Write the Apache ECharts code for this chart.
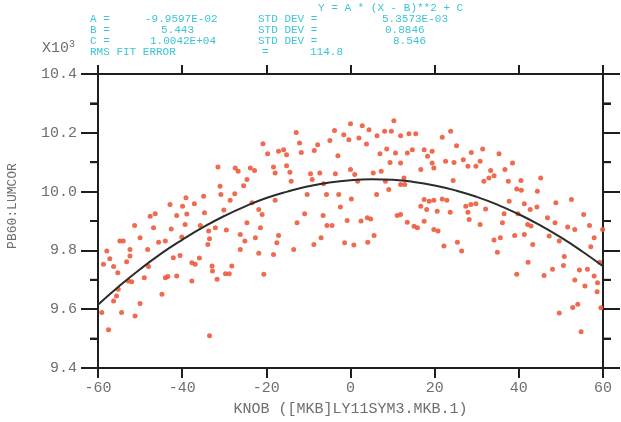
<!DOCTYPE html>
<html>
<head>
<meta charset="utf-8">
<script src="https://cdn.jsdelivr.net/npm/echarts@6/dist/echarts.min.js"></script>
<style>
  html, body { margin: 0; padding: 0; background: #fff; }
  #chart { width: 621px; height: 422px; }
</style>
</head>
<body>
<div id="chart"></div>
<script>
// fitted curve Y = A*(X-B)**2 + C (units of 10^3)
const fitKnob = [-60, -55, -50, -45, -40, -35, -30, -25, -20, -15, -10, -5, 0,
  5, 10, 15, 20, 25, 30, 35, 40, 45, 50, 55, 60];
const fitLumcor = [9.615, 9.678, 9.736, 9.789, 9.836, 9.879, 9.917, 9.950, 9.978,
  10.000, 10.018, 10.031, 10.039, 10.042, 10.040, 10.033, 10.021, 10.004, 9.982,
  9.955, 9.923, 9.886, 9.844, 9.797, 9.746];

// measured points [knob, lumcor/1000]
const measured = [
  [-31.0, 10.018], [-25.4, 10.020], [-39.1, 9.979], [-34.9, 9.984], [-30.8, 9.990],
  [-27.5, 9.993], [-28.6, 9.971], [-42.9, 9.956], [-39.9, 9.950], [-37.1, 9.959],
  [-30.1, 9.937], [-23.4, 9.962], [-21.8, 9.939], [-47.6, 9.916], [-46.4, 9.925],
  [-41.3, 9.919], [-38.9, 9.924], [-34.7, 9.928], [-21.0, 9.922], [-51.3, 9.885],
  [-46.8, 9.877], [-42.6, 9.873], [-39.3, 9.888], [-35.7, 9.885], [-33.7, 9.866],
  [-32.1, 9.877], [-29.5, 9.869], [-24.6, 9.894], [-21.4, 9.877], [-54.8, 9.832],
  [-54.0, 9.832], [-50.0, 9.843], [-45.6, 9.828], [-44.0, 9.832], [-40.1, 9.846],
  [-33.5, 9.840], [-33.9, 9.820], [-26.2, 9.854], [-25.1, 9.832], [-22.6, 9.843],
  [-57.9, 9.798], [-52.4, 9.803], [-48.2, 9.803], [-26.2, 9.803], [-21.8, 9.790],
  [-57.2, 9.772], [-58.7, 9.753], [-56.3, 9.745], [-53.2, 9.761], [-52.4, 9.781],
  [-42.1, 9.775], [-40.5, 9.783], [-37.7, 9.758], [-36.9, 9.753], [-35.9, 9.774],
  [-32.9, 9.747], [-32.8, 9.730], [-28.2, 9.747], [-55.3, 9.724], [-48.0, 9.745],
  [-29.7, 9.721], [-28.8, 9.721], [-52.8, 9.696], [-52.0, 9.693], [-49.0, 9.707],
  [-44.0, 9.707], [-43.4, 9.711], [-41.3, 9.713], [-37.7, 9.696], [-31.7, 9.702],
  [-20.6, 9.719], [-55.2, 9.668], [-44.8, 9.651], [-56.3, 9.628], [-55.6, 9.645],
  [-50.0, 9.619], [-59.1, 9.589], [-54.4, 9.589], [-51.2, 9.577], [-57.5, 9.530],
  [-33.5, 9.510],
  [-31.5, 10.084], [-27.4, 10.080], [-26.7, 10.069], [-23.8, 10.080], [-22.8, 10.072],
  [-24.6, 10.041],
  [0.0, 10.231], [2.8, 10.224], [4.4, 10.210], [10.3, 10.241], [-12.9, 10.201],
  [-3.8, 10.208], [-1.6, 10.193], [-0.4, 10.176], [2.0, 10.182], [3.8, 10.162],
  [6.3, 10.190], [8.1, 10.205], [9.7, 10.205], [11.9, 10.190], [13.9, 10.197],
  [15.5, 10.197], [-20.8, 10.163], [-12.1, 10.165], [-7.8, 10.159], [-4.9, 10.174],
  [17.5, 10.142], [18.3, 10.120], [-19.7, 10.129], [-17.1, 10.137], [-15.9, 10.142],
  [-15.2, 10.125], [-11.7, 10.133], [-8.6, 10.140], [-3.0, 10.122], [7.0, 10.129],
  [8.6, 10.145], [10.7, 10.131], [13.5, 10.131], [14.7, 10.142], [-18.3, 10.084],
  [-15.2, 10.088], [-14.4, 10.066], [-17.9, 10.063], [9.4, 10.099], [11.9, 10.097],
  [16.7, 10.075], [19.4, 10.097], [-9.5, 10.061], [-7.3, 10.063], [-3.6, 10.061],
  [0.0, 10.075], [1.0, 10.058], [5.4, 10.063], [7.3, 10.069], [12.7, 10.046],
  [-14.1, 10.035], [-9.1, 10.041], [-6.4, 10.027], [1.7, 10.035], [8.3, 10.035],
  [11.9, 10.024], [12.9, 10.024], [9.1, 10.007], [-10.3, 9.990], [-2.8, 9.990],
  [0.2, 9.975], [6.2, 9.990], [-17.9, 9.971], [-5.7, 9.990], [17.5, 9.973],
  [18.7, 9.967], [-2.4, 9.948], [16.7, 9.950], [18.1, 9.939],
  [-10.9, 9.925], [-6.5, 9.919], [4.0, 9.911], [4.8, 9.907], [2.5, 9.900],
  [-0.8, 9.902], [11.1, 9.919], [11.9, 9.922], [-12.7, 9.894], [-5.6, 9.885],
  [-4.4, 9.885], [13.5, 9.896], [15.1, 9.882], [15.9, 9.877], [17.5, 9.899],
  [-17.1, 9.851], [-7.0, 9.843], [5.6, 9.851], [-17.5, 9.826], [-8.7, 9.820],
  [-1.4, 9.826], [4.1, 9.828], [0.8, 9.818], [-13.5, 9.803], [-18.3, 9.786],
  [23.8, 10.205], [21.8, 10.185], [25.2, 10.156], [19.4, 10.137], [28.7, 10.133],
  [31.4, 10.145], [22.6, 10.103], [24.6, 10.099], [26.8, 10.108], [27.9, 10.086],
  [29.8, 10.086], [30.8, 10.103], [19.8, 10.080], [35.3, 10.129], [38.5, 10.097],
  [33.3, 10.072], [34.1, 10.054], [32.9, 10.046], [31.7, 10.035], [36.7, 10.075],
  [37.5, 10.035], [40.5, 10.038], [45.2, 10.046], [39.5, 10.009], [40.6, 10.005],
  [44.4, 10.001], [24.4, 10.038], [19.8, 9.971], [21.8, 9.975], [22.9, 9.971],
  [27.4, 9.950], [28.6, 9.956], [29.8, 9.959], [32.1, 9.941], [37.7, 9.967],
  [41.3, 9.959], [42.7, 9.939], [44.3, 9.948], [48.8, 9.962], [52.5, 9.973],
  [20.6, 9.933], [23.7, 9.930], [27.9, 9.930], [36.5, 9.925], [28.2, 9.905],
  [30.8, 9.888], [36.1, 9.894], [39.8, 9.925], [46.8, 9.911], [48.6, 9.894],
  [55.4, 9.922], [19.8, 9.871], [20.8, 9.866], [42.1, 9.888], [42.9, 9.883],
  [51.6, 9.880], [53.3, 9.871], [56.8, 9.885], [22.2, 9.815], [25.4, 9.828],
  [26.4, 9.798], [34.1, 9.835], [35.6, 9.843], [34.9, 9.794], [39.0, 9.851],
  [41.3, 9.854], [47.2, 9.849], [49.6, 9.832], [43.3, 9.820], [50.8, 9.779],
  [57.9, 9.843], [59.9, 9.871], [57.1, 9.812], [42.2, 9.760], [39.5, 9.719],
  [46.0, 9.715], [48.0, 9.736], [50.6, 9.749], [54.4, 9.733], [56.3, 9.736],
  [53.3, 9.699], [57.9, 9.713], [55.7, 9.679], [58.7, 9.690], [58.6, 9.659],
  [54.0, 9.617], [52.8, 9.606], [49.6, 9.587], [54.8, 9.523], [59.5, 9.605],
  [59.2, 9.760]
];

// minor tick positions on the y axis (units of 10^3)
const minorTickValues = [9.5, 9.7, 9.9, 10.1, 10.3];

const fitText = [
  { x: 318, y: 9, t: 'Y = A * (X - B)**2 + C' },
  { x: 90, y: 20, t: 'A =' }, { x: 145, y: 20, t: '-9.9597E-02' },
  { x: 258, y: 20, t: 'STD DEV =' }, { x: 382, y: 20, t: '5.3573E-03' },
  { x: 90, y: 31, t: 'B =' }, { x: 161, y: 31, t: '5.443' },
  { x: 258, y: 31, t: 'STD DEV =' }, { x: 385, y: 31, t: '0.8846' },
  { x: 90, y: 42, t: 'C =' }, { x: 150, y: 42, t: '1.0042E+04' },
  { x: 258, y: 42, t: 'STD DEV =' }, { x: 393, y: 42, t: '8.546' },
  { x: 90, y: 53, t: 'RMS FIT ERROR' }, { x: 262, y: 53, t: '=' },
  { x: 310, y: 53, t: '114.8' }
];

const mono = 'Liberation Mono';
const labelGray = '#6e6e6e';
const ink = '#1e1e1e';
const frameLine = () => ({ show: true, onZero: false, lineStyle: { color: ink, width: 2 } });
const tick = len => ({ show: true, inside: false, length: len, lineStyle: { color: ink, width: 2 } });

// the y axis runs in raw units (integer intervals), labels show value / 10^3
const toRaw = v => Math.round(v * 1000);

const yAxisFor = (position, withLabels) => ({
  type: 'value', position: position, min: 9400, max: 10400, interval: 200,
  axisLine: frameLine(),
  axisTick: tick(17),
  minorTick: { show: true, splitNumber: 2, length: 8, lineStyle: { color: ink, width: 2 } },
  axisLabel: withLabels
    ? { color: labelGray, fontFamily: mono, fontSize: 15, margin: 21, formatter: v => (v / 1000).toFixed(1) }
    : { show: false },
  splitLine: { show: false }
});

const chart = echarts.init(document.getElementById('chart'));

const option = {
  animation: false,
  backgroundColor: '#fff',
  grid: { left: 98, right: 18, top: 74, bottom: 54 },
  graphic: fitText.map(d => ({
    type: 'text', left: d.x, top: d.y - 6,
    style: { text: d.t, fill: '#3cc4d6', font: '11px ' + mono }
  })).concat([
    {
      type: 'text', left: 42, top: 39,
      style: {
        text: '{a|X10}{b|3}', fill: labelGray,
        rich: {
          a: { fontFamily: mono, fontSize: 15, fill: labelGray },
          b: { fontFamily: mono, fontSize: 10, fill: labelGray, verticalAlign: 'top', padding: [0, 0, 8, 0] }
        }
      }
    },
    {
      type: 'text', x: 13, y: 206, rotation: Math.PI / 2,
      style: {
        text: 'PB60:LUMCOR', fill: labelGray, font: '13px ' + mono,
        align: 'center', verticalAlign: 'middle'
      }
    }
  ]),
  xAxis: [
    {
      type: 'value', position: 'bottom', min: -60, max: 60, interval: 20,
      axisLine: frameLine(),
      axisTick: tick(10),
      axisLabel: { color: labelGray, fontFamily: mono, fontSize: 15, margin: 13 },
      splitLine: { show: false },
      name: 'KNOB ([MKB]LY11SYM3.MKB.1)', nameLocation: 'middle', nameGap: 34,
      nameTextStyle: { color: labelGray, fontFamily: mono, fontSize: 15 }
    },
    {
      type: 'value', position: 'top', min: -60, max: 60, interval: 20,
      axisLine: frameLine(),
      axisTick: tick(9),
      axisLabel: { show: false },
      splitLine: { show: false }
    }
  ],
  yAxis: [yAxisFor('left', true), yAxisFor('right', false)],
  series: [
    {
      name: 'measured', type: 'scatter', xAxisIndex: 0, yAxisIndex: 0,
      data: measured.map(p => [p[0], toRaw(p[1])]),
      symbol: 'circle', symbolSize: 5,
      itemStyle: { color: '#ee5a3c', opacity: 0.9 }
    },
    {
      name: 'fit', type: 'line', xAxisIndex: 0, yAxisIndex: 0, smooth: true, showSymbol: false, z: 3,
      data: fitKnob.map((x, i) => [x, toRaw(fitLumcor[i])]),
      lineStyle: { color: '#2b2b2b', width: 2 }
    },
    {
      // short outside ticks at the half steps, placed through the y scale
      name: 'minor ticks', type: 'custom', xAxisIndex: 0, yAxisIndex: 0,
      silent: true, clip: false, z: 4,
      data: minorTickValues.map(v => [-60, toRaw(v)]),
      renderItem: (params, api) => {
        const leftPt = api.coord([-60, api.value(1)]);
        const rightPt = api.coord([60, api.value(1)]);
        const st = { stroke: ink, lineWidth: 2 };
        return {
          type: 'group',
          children: [
            { type: 'line', shape: { x1: leftPt[0] - 8, y1: leftPt[1], x2: leftPt[0], y2: leftPt[1] }, style: st },
            { type: 'line', shape: { x1: rightPt[0], y1: rightPt[1], x2: rightPt[0] + 8, y2: rightPt[1] }, style: st }
          ]
        };
      }
    }
  ]
};

chart.setOption(option);
</script>
</body>
</html>
